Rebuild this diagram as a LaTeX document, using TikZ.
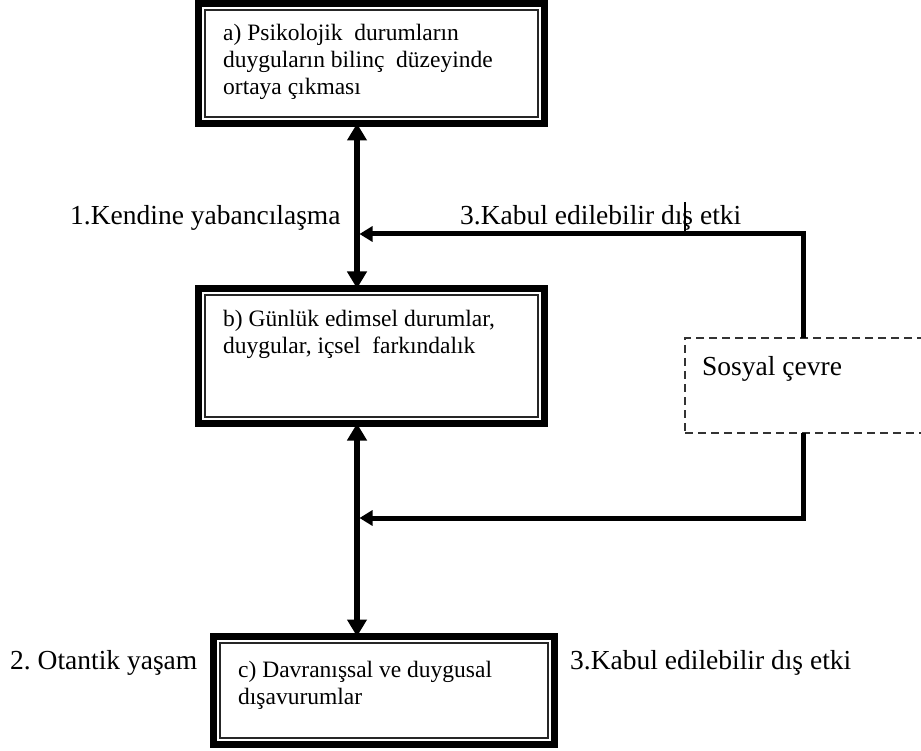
\documentclass[tikz,border=0pt]{standalone}
\usepackage{fontspec}
\setmainfont{Liberation Serif}
\usetikzlibrary{arrows.meta}
\frenchspacing
\begin{document}
\begin{tikzpicture}[x=1pt,y=-1pt,
  dbox/.style={draw=black, line width=7pt, outer sep=0pt, inner sep=0pt, anchor=north west,
    path picture={\draw[line width=1.4pt, black!85]
      ([shift={(6.5pt,-6.5pt)}]path picture bounding box.north west) rectangle
      ([shift={(-6.5pt,6.5pt)}]path picture bounding box.south east);}},
  btext/.style={inner sep=0pt, align=left, anchor=west, font=\fontsize{23.5}{27}\selectfont},
  lbl/.style={inner sep=0pt, anchor=base west, font=\fontsize{27.5}{32}\selectfont},
  vlink/.style={line width=5.5pt, {Triangle[width=19pt,length=17pt]}-{Triangle[width=19pt,length=17pt]}},
  hlink/.style={line width=5pt, -{Triangle[width=15pt,length=13pt]}},
  envbox/.style={draw=black!80, line width=1.8pt, dash pattern=on 8pt off 5pt, anchor=north west,
    minimum width=300pt, minimum height=95pt, inner sep=0pt, outer sep=0pt}
]
\clip (0,0) rectangle (921,751);

% the three stages
\node[dbox, minimum width=346pt, minimum height=120pt] (a) at (198.5,3.5) {};
\node[dbox, minimum width=346pt, minimum height=135pt] (b) at (198.5,288.5) {};
\node[dbox, minimum width=341pt, minimum height=108pt] (c) at (213.5,636.5) {};

\node[btext] (ta) at (223,62) {a) Psikolojik\ \ durumların\\duyguların bilinç\ \ düzeyinde\\ortaya çıkması};
\node[btext] (tb) at (223,334.5) {b) Günlük edimsel durumlar,\\duygular, içsel\ \ farkındalık};
\node[btext] (tc) at (238,685) {c) Davranışsal ve duygusal\\dışavurumlar};

% social environment
\node[envbox] (s) at (685,338) {};
\node[lbl] (ts) at (702,375) {Sosyal çevre};

% side labels
\node[lbl] (l1) at (70,225) {1.Kendine yabancılaşma};
\node[lbl] (l3a) at (460,225) {3.Kabul edilebilir dış etki};
\node[lbl] (l2) at (10,669) {2. Otantik yaşam};
\node[lbl] (l3b) at (570,669) {3.Kabul edilebilir dış etki};

% main vertical axis
\coordinate (spine) at (357,0);
\coordinate (side) at (803,0);
\draw[vlink] (spine |- a.south) -- (spine |- b.north);
\draw[vlink] (spine |- b.south) -- (spine |- c.north);

% feedback from the social environment
\coordinate (j1) at (359.5,234);
\coordinate (j2) at (359.5,518);
\draw[hlink] (side |- s.north) |- (j1);
\draw[hlink] (side |- s.south) |- (j2);

% small vertical stroke over the upper label
\coordinate (m1) at (685,202);
\coordinate (m2) at (685,233);
\draw[line width=2.5pt] (m1) -- (m2);
\end{tikzpicture}
\end{document}
